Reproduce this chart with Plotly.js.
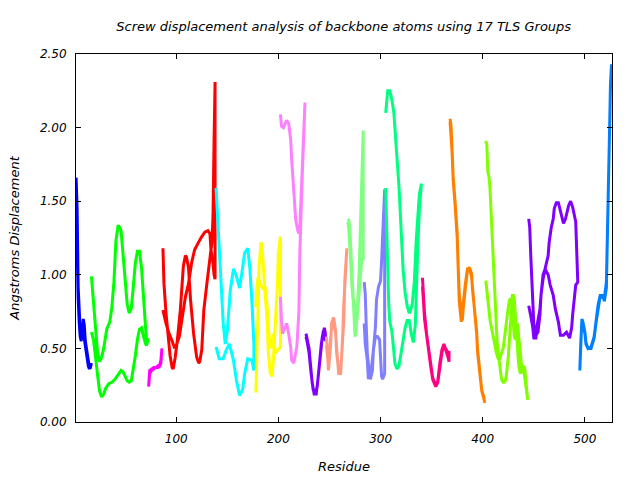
<!DOCTYPE html>
<html>
<head>
<meta charset="utf-8">
<script src="https://cdn.plot.ly/plotly-3.0.1.min.js"></script>
<style>html,body{margin:0;padding:0;background:#fff;}#chart{width:640px;height:480px;}</style>
</head>
<body>
<div id="chart"></div>
<script>
// TLS group 1
var g1_xa = [2,3,4,5,6,7,8,9,10,11,12,13,14,15,16,17];
var g1_ya = [1.66,1.45,0.92,0.76,0.62,0.57,0.60,0.70,0.66,0.55,0.50,0.45,0.40,0.37,0.37,0.40];
var g1_xb = [2,3,4,5,6,7,8,9,10,11,12,13,14,15,16,17];
var g1_yb = [1.45,1.20,0.84,0.68,0.58,0.55,0.66,0.62,0.57,0.52,0.47,0.43,0.38,0.36,0.38,0.40];
// TLS group 2
var g2_xa = [17,19,21,23,25,27,29,32,35,37,39,41,43,44,46,48,50,52,54,56,58,60,62,64,66,68,70,71,72];
var g2_ya = [0.99,0.80,0.62,0.47,0.41,0.44,0.50,0.63,0.68,0.78,0.95,1.23,1.33,1.33,1.30,1.12,0.92,0.80,0.74,0.77,0.92,1.08,1.16,1.16,1.05,0.85,0.65,0.54,0.57];
var g2_xb = [17,19,21,23,25,27,29,31,34,37,40,42,44,46,48,50,52,54,56,58,60,62,64,66,68,70,71,72];
var g2_yb = [0.61,0.56,0.46,0.32,0.21,0.17,0.19,0.23,0.26,0.27,0.29,0.31,0.33,0.35,0.34,0.31,0.28,0.27,0.28,0.35,0.45,0.56,0.63,0.64,0.58,0.53,0.52,0.55];
// TLS group 3
var g3_xa = [73,74,76,78,80,82,84,85,86];
var g3_ya = [0.24,0.35,0.36,0.37,0.37,0.38,0.39,0.42,0.50];
var g3_xb = [73,74,76,78,80,82,84,85,86];
var g3_yb = [0.24,0.33,0.35,0.36,0.37,0.37,0.38,0.40,0.47];
// TLS group 4
var g4_xa = [87,88,90,92,94,96,97,99,101,104,107,109,110,112,114,117,120,122,123,125,127,130,132,134,135,136,137,138];
var g4_ya = [1.18,0.94,0.74,0.60,0.45,0.37,0.36,0.44,0.55,0.76,1.06,1.13,1.12,1.05,0.83,0.60,0.44,0.40,0.41,0.49,0.76,0.94,1.08,1.17,1.22,1.40,1.90,2.31];
var g4_xb = [87,90,93,96,98,100,103,106,109,112,115,118,121,125,128,131,133,134,135,136,137,138];
var g4_yb = [0.76,0.67,0.60,0.55,0.51,0.52,0.58,0.71,0.85,0.94,1.08,1.17,1.21,1.26,1.29,1.30,1.28,1.17,1.12,1.08,1.00,0.97];
// TLS group 5
var g5_xa = [139,141,143,144,146,148,150,153,156,159,162,164,167,170,172,174,175,176];
var g5_ya = [1.59,1.33,1.12,0.94,0.67,0.53,0.62,0.90,1.04,0.99,0.91,1.00,1.15,1.18,1.05,0.83,0.60,0.53];
var g5_xb = [139,142,146,149,152,156,159,162,165,167,170,174,176];
var g5_yb = [0.51,0.43,0.43,0.49,0.53,0.42,0.28,0.18,0.22,0.33,0.43,0.42,0.35];
// TLS group 6
var g6_xa = [178,179,180,181,183,184,185,187,189,190,192,194,195,197,199,200,202];
var g6_ya = [0.20,0.42,0.74,1.05,1.22,1.19,1.05,0.87,0.69,0.49,0.33,0.31,0.42,0.65,0.92,1.15,1.26];
var g6_xb = [178,179,180,182,184,185,187,189,190,192,193,195,197,199,202];
var g6_yb = [0.78,0.92,0.98,0.95,0.92,0.90,0.92,0.78,0.65,0.51,0.51,0.60,0.47,0.49,0.51];
// TLS group 7
var g7_xa = [202,203,205,207,208,210,212,213,215,216,217,219,220,221,222,223,225,226];
var g7_ya = [2.09,2.01,2.00,2.04,2.05,2.03,1.92,1.78,1.55,1.44,1.37,1.30,1.28,1.33,1.51,1.65,2.01,2.17];
var g7_xb = [202,203,204,207,208,210,212,213,215,216,218,220,221,223,225,226];
var g7_yb = [0.85,0.69,0.60,0.65,0.67,0.60,0.51,0.42,0.40,0.42,0.51,0.74,1.15,1.60,2.01,2.17];
// TLS group 8
var g8_xa = [227,228,230,231,233,235,237,239,241,243,245,246];
var g8_ya = [0.60,0.57,0.50,0.42,0.27,0.19,0.19,0.31,0.47,0.58,0.64,0.60];
var g8_xb = [227,228,230,232,234,236,238,240,242,244,246];
var g8_yb = [0.58,0.55,0.47,0.33,0.22,0.20,0.24,0.38,0.53,0.62,0.55];
// TLS group 9
var g9_xa = [247,248,249,251,252,254,256,257,259,261,262,264,265,267];
var g9_ya = [0.58,0.42,0.35,0.51,0.67,0.71,0.62,0.47,0.35,0.34,0.47,0.69,0.96,1.18];
var g9_xb = [247,248,249,251,252,254,256,257,258,259,261,262,263,264,265,266,267];
var g9_yb = [0.52,0.45,0.40,0.55,0.64,0.68,0.60,0.50,0.40,0.33,0.33,0.42,0.60,0.80,0.95,1.05,1.17];
// TLS group 10
var g10_xa = [268,269,270,271,272,273,274,275,276,277,278,279,280,281,282,283];
var g10_ya = [1.38,1.37,1.30,1.15,0.98,0.80,0.64,0.58,0.62,0.72,0.87,1.02,1.25,1.55,1.80,1.98];
var g10_xb = [268,269,270,271,272,273,274,275,276,277,278,279,280,281,282,283];
var g10_yb = [1.36,1.30,1.20,1.06,0.92,0.84,0.83,0.78,0.70,0.70,0.75,0.87,0.95,1.05,1.12,1.10];
// TLS group 11
var g11_xa = [284,285,286,287,289,290,292,293,295,296,298,300,301,302,303,304];
var g11_ya = [0.95,0.87,0.65,0.47,0.33,0.29,0.35,0.49,0.65,0.83,0.92,0.96,1.10,1.26,1.39,1.58];
var g11_xb = [284,285,287,288,290,292,293,295,297,299,300,301,302,304];
var g11_yb = [0.67,0.53,0.42,0.30,0.30,0.42,0.49,0.58,0.58,0.56,0.47,0.31,0.29,0.33];
// TLS group 12
var g12_xa = [305,306,307,309,311,313,314,316,318,320,322,324,326,328,329,331,333,335,336,338,340];
var g12_ya = [2.10,2.21,2.25,2.25,2.19,2.10,1.98,1.80,1.60,1.30,1.04,0.88,0.79,0.74,0.75,0.80,0.95,1.25,1.35,1.55,1.62];
var g12_xb = [305,306,307,308,309,311,313,314,316,318,320,322,324,326,328,330,332,334,336,338,340];
var g12_yb = [1.59,1.33,1.05,0.80,0.68,0.62,0.48,0.40,0.36,0.38,0.45,0.56,0.64,0.69,0.69,0.60,0.54,0.66,1.10,1.45,1.62];
// TLS group 13
var g13_xa = [341,342,343,345,347,349,351,354,356,358,360,362,364,366,367];
var g13_ya = [0.98,0.87,0.74,0.60,0.51,0.40,0.30,0.25,0.28,0.40,0.49,0.53,0.49,0.44,0.41];
var g13_xb = [341,342,343,345,347,349,351,354,356,358,360,362,364,366,367];
var g13_yb = [0.92,0.82,0.70,0.58,0.49,0.38,0.29,0.24,0.27,0.38,0.47,0.52,0.50,0.47,0.48];
// TLS group 14
var g14_xa = [368,369,370,371,373,375,376,377,379,380,381,383,385,387,389,390,392,394,395,397,398,399,401,402];
var g14_ya = [2.06,2.01,1.85,1.67,1.49,1.28,1.05,0.87,0.74,0.69,0.78,0.92,1.03,1.05,1.01,0.90,0.76,0.62,0.49,0.37,0.28,0.22,0.17,0.13];
var g14_xb = [368,369,370,371,373,375,376,377,379,380,381,383,385,387,389,390,392,394,395,397,398,399,401,402];
var g14_yb = [2.04,1.98,1.83,1.65,1.47,1.25,1.02,0.82,0.68,0.70,0.80,0.94,1.04,1.04,0.99,0.88,0.74,0.60,0.47,0.36,0.27,0.21,0.16,0.13];
// TLS group 15
var g15_xa = [403,404,405,406,407,408,409,410,411,412,413,414,415,416,417,418,419,420,421,422,423,424,425,426,427,428,429,430,431,432,433,434,435,436,437,438,439,440,441,442,443,444];
var g15_ya = [1.91,1.88,1.70,1.67,1.60,1.45,1.25,1.05,0.90,0.78,0.68,0.55,0.48,0.41,0.36,0.31,0.28,0.27,0.27,0.28,0.31,0.36,0.44,0.55,0.68,0.80,0.86,0.86,0.82,0.72,0.60,0.48,0.40,0.35,0.33,0.34,0.36,0.36,0.30,0.25,0.20,0.15];
var g15_xb = [403,404,405,406,407,408,409,410,411,412,413,414,415,416,417,418,419,420,421,422,423,424,425,426,427,428,429,430,431,432,433,434,435,436,437,438,439,440,441,442,443,444];
var g15_yb = [0.96,0.90,0.84,0.76,0.70,0.66,0.62,0.58,0.55,0.52,0.48,0.45,0.43,0.42,0.43,0.46,0.48,0.50,0.53,0.58,0.65,0.72,0.78,0.82,0.84,0.82,0.75,0.66,0.58,0.56,0.62,0.67,0.64,0.55,0.45,0.38,0.36,0.38,0.37,0.30,0.22,0.15];
// TLS group 16
var g16_xa = [445,446,447,448,449,450,452,454,456,457,459,461,464,466,469,471,474,476,479,482,485,487,488,491,493];
var g16_ya = [1.38,1.32,1.13,0.95,0.77,0.66,0.59,0.61,0.73,0.86,1.00,1.04,1.00,0.93,0.86,0.77,0.68,0.59,0.59,0.61,0.57,0.64,0.73,0.93,0.95];
var g16_xb = [445,447,449,450,452,453,456,457,459,461,464,465,467,469,470,472,474,477,479,481,484,486,488,491,492,493];
var g16_yb = [0.79,0.72,0.64,0.57,0.57,0.65,0.77,0.86,0.97,1.04,1.13,1.22,1.32,1.38,1.45,1.49,1.49,1.41,1.35,1.38,1.47,1.50,1.46,1.36,1.18,0.95];
// TLS group 17
var g17_xa = [495,496,497,498,500,501,503,506,509,511,513,515,518,519,521,522,523,524,525,526];
var g17_ya = [0.35,0.57,0.70,0.68,0.61,0.54,0.50,0.50,0.57,0.68,0.79,0.86,0.86,0.82,0.91,1.32,1.63,1.95,2.29,2.43];
var g17_xb = [495,496,497,498,500,501,503,506,509,511,513,515,518,519,521,522,523,524,525,526];
var g17_yb = [0.35,0.55,0.68,0.66,0.60,0.53,0.50,0.51,0.58,0.69,0.80,0.86,0.84,0.84,0.95,1.35,1.65,1.97,2.28,2.28];

var groupColors = ['#0000FF','#00FF00','#FF00FF','#FF0000','#00FFFF','#FFFF00','#FF80FF','#8000FF','#FF9980','#80FF80','#8080FF','#00FF80','#FF0080','#FF8000','#80FF00','#8000FF','#0080FF'];
var xTicks = [100,200,300,400,500];
var yTicks = [0,0.5,1.0,1.5,2.0,2.5];

var groups = [
  [g1_xa,g1_ya,g1_xb,g1_yb],[g2_xa,g2_ya,g2_xb,g2_yb],[g3_xa,g3_ya,g3_xb,g3_yb],
  [g4_xa,g4_ya,g4_xb,g4_yb],[g5_xa,g5_ya,g5_xb,g5_yb],[g6_xa,g6_ya,g6_xb,g6_yb],
  [g7_xa,g7_ya,g7_xb,g7_yb],[g8_xa,g8_ya,g8_xb,g8_yb],[g9_xa,g9_ya,g9_xb,g9_yb],
  [g10_xa,g10_ya,g10_xb,g10_yb],[g11_xa,g11_ya,g11_xb,g11_yb],[g12_xa,g12_ya,g12_xb,g12_yb],
  [g13_xa,g13_ya,g13_xb,g13_yb],[g14_xa,g14_ya,g14_xb,g14_yb],[g15_xa,g15_ya,g15_xb,g15_yb],
  [g16_xa,g16_ya,g16_xb,g16_yb],[g17_xa,g17_ya,g17_xb,g17_yb]
];

var traces = groups.map(function(g, i){
  return {
    type: 'scatter', mode: 'lines',
    x: g[0].concat(g[2].slice().reverse()),
    y: g[1].concat(g[3].slice().reverse()),
    line: {color: groupColors[i], width: 3},
    hoverinfo: 'skip', showlegend: false
  };
});

var tickFnt = {family: 'DejaVu Sans, sans-serif', size: 12, color: '#000', style: 'italic'};
var titleFnt = {family: 'DejaVu Sans, sans-serif', size: 13, color: '#000', style: 'italic'};
var layout = {
  width: 640, height: 480,
  paper_bgcolor: '#fff', plot_bgcolor: '#fff',
  margin: {l: 76, r: 28, t: 54, b: 58},
  showlegend: false,
  title: {text: 'Screw displacement analysis of backbone atoms using 17 TLS Groups',
          font: titleFnt,
          x: 0.537, xanchor: 'center', y: 0.944, yanchor: 'middle'},
  xaxis: {range: [1.9, 526.5], tickvals: xTicks, ticktext: xTicks.map(String),
          ticks: 'inside', ticklen: 5, tickcolor: '#000', mirror: 'ticks',
          showline: true, linecolor: '#000', linewidth: 1, showgrid: false, zeroline: false,
          tickfont: tickFnt, ticklabelstandoff: 6,
          title: {text: 'Residue', font: titleFnt, standoff: 16}},
  yaxis: {range: [0, 2.5], tickvals: yTicks, ticktext: yTicks.map(function(v){return v.toFixed(2);}),
          ticks: 'inside', ticklen: 5, tickcolor: '#000', mirror: 'ticks',
          showline: true, linecolor: '#000', linewidth: 1, showgrid: false, zeroline: false,
          tickfont: tickFnt, ticklabelstandoff: 6,
          title: {text: 'Angstroms Displacement', font: titleFnt, standoff: 17}}
};
Plotly.newPlot('chart', traces, layout, {displayModeBar: false, staticPlot: true});
</script>
</body>
</html>
